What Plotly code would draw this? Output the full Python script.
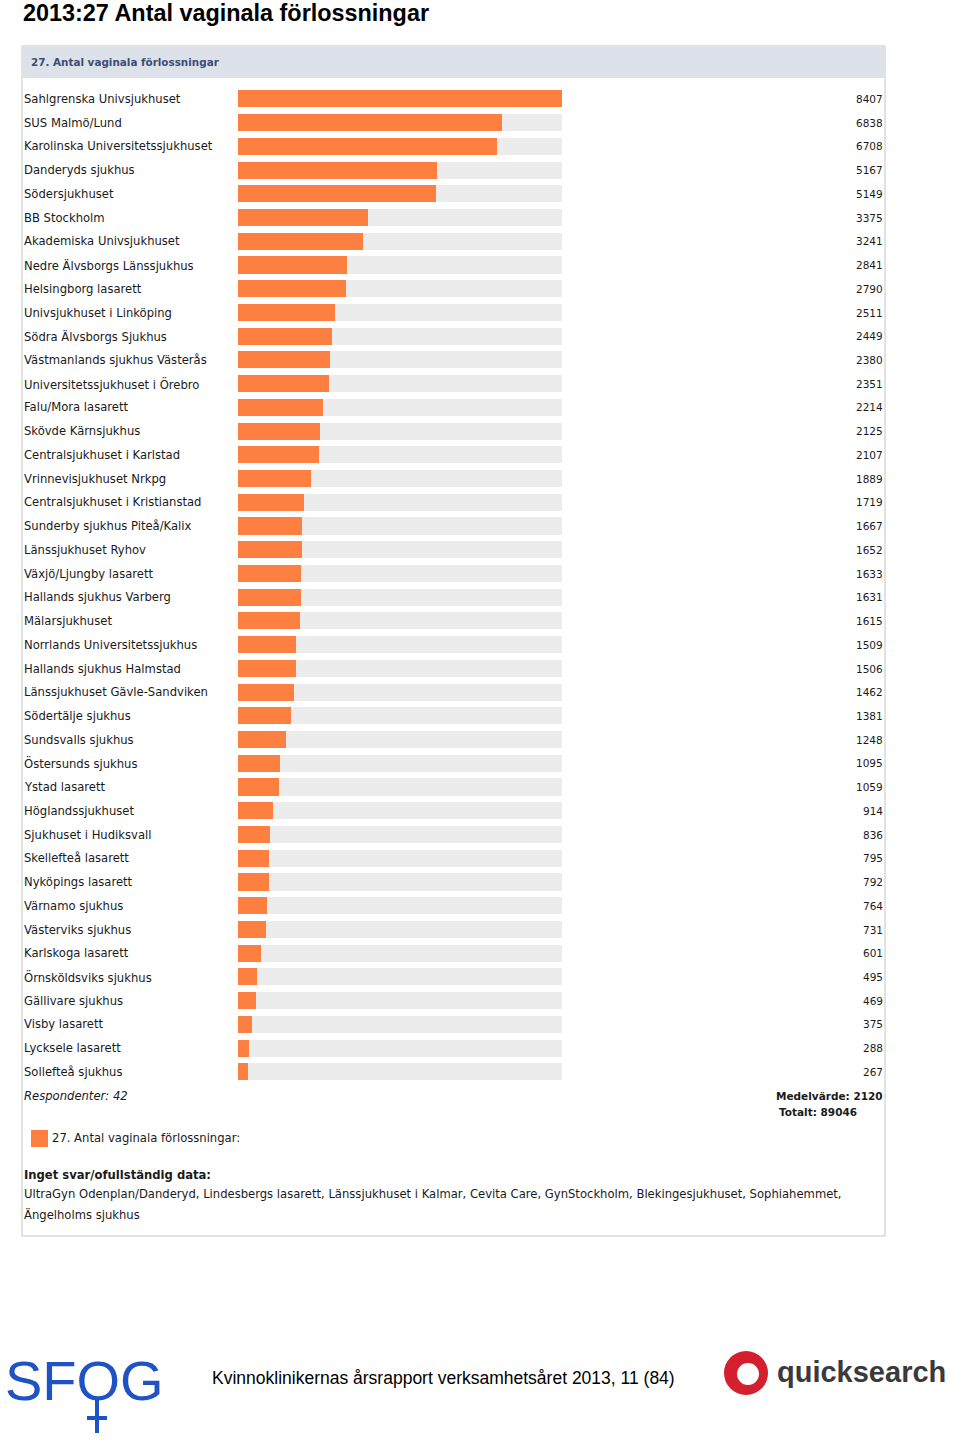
import plotly.graph_objects as go

hospitals = [
    "Sahlgrenska Univsjukhuset", "SUS Malmö/Lund", "Karolinska Universitetssjukhuset",
    "Danderyds sjukhus", "Södersjukhuset", "BB Stockholm", "Akademiska Univsjukhuset",
    "Nedre Älvsborgs Länssjukhus", "Helsingborg lasarett", "Univsjukhuset i Linköping",
    "Södra Älvsborgs Sjukhus", "Västmanlands sjukhus Västerås", "Universitetssjukhuset i Örebro",
    "Falu/Mora lasarett", "Skövde Kärnsjukhus", "Centralsjukhuset i Karlstad",
    "Vrinnevisjukhuset Nrkpg", "Centralsjukhuset i Kristianstad", "Sunderby sjukhus Piteå/Kalix",
    "Länssjukhuset Ryhov", "Växjö/Ljungby lasarett", "Hallands sjukhus Varberg",
    "Mälarsjukhuset", "Norrlands Universitetssjukhus", "Hallands sjukhus Halmstad",
    "Länssjukhuset Gävle-Sandviken", "Södertälje sjukhus", "Sundsvalls sjukhus",
    "Östersunds sjukhus", "Ystad lasarett", "Höglandssjukhuset", "Sjukhuset i Hudiksvall",
    "Skellefteå lasarett", "Nyköpings lasarett", "Värnamo sjukhus", "Västerviks sjukhus",
    "Karlskoga lasarett", "Örnsköldsviks sjukhus", "Gällivare sjukhus", "Visby lasarett",
    "Lycksele lasarett", "Sollefteå sjukhus",
]
values = [
    8407, 6838, 6708, 5167, 5149, 3375, 3241, 2841, 2790, 2511, 2449, 2380, 2351, 2214,
    2125, 2107, 1889, 1719, 1667, 1652, 1633, 1631, 1615, 1509, 1506, 1462, 1381, 1248,
    1095, 1059, 914, 836, 795, 792, 764, 731, 601, 495, 469, 375, 288, 267,
]
series_name = "27. Antal vaginala förlossningar"
respondents = 42
mean_value = 2120
total_value = 89046
missing_label = "Inget svar/ofullständig data:"
missing_lines = [
    "UltraGyn Odenplan/Danderyd, Lindesbergs lasarett, Länssjukhuset i Kalmar, Cevita Care, GynStockholm, Blekingesjukhuset, Sophiahemmet,",
    "Ängelholms sjukhus",
]
page_title = "2013:27 Antal vaginala förlossningar"
footer_text = "Kvinnoklinikernas årsrapport verksamhetsåret 2013, 11 (84)"

W, H = 960, 1442
ORANGE = "#fd8041"
TRACK = "#ececec"
FONT = "DejaVu Sans"


def px(x):
    return x / W


def py(y):
    return 1 - y / H


n = len(values)
row0, pitch = 99.0, 23.73
top_pix = row0 - 0.5 * pitch
bot_pix = row0 + (n - 0.5) * pitch
idx = list(range(n))
vmax = max(values)

fig = go.Figure()
fig.add_trace(go.Bar(
    x=[vmax] * n, y=idx, orientation="h", marker=dict(color=TRACK, line_width=0),
    width=0.72, hoverinfo="skip", showlegend=False,
))
fig.add_trace(go.Bar(
    x=values, y=idx, orientation="h", marker=dict(color=ORANGE, line_width=0),
    width=0.72, name=series_name, showlegend=False,
))

fig.update_layout(
    width=W, height=H, margin=dict(l=0, r=0, t=0, b=0),
    paper_bgcolor="white", plot_bgcolor="rgba(0,0,0,0)",
    barmode="overlay", bargap=0,
    xaxis=dict(domain=[px(238), px(562)], range=[0, vmax], visible=False, fixedrange=True),
    yaxis=dict(domain=[py(bot_pix), py(top_pix)], range=[n - 0.5, -0.5], visible=False, fixedrange=True),
)

shapes = []
# panel
shapes.append(dict(type="rect", xref="paper", yref="paper", x0=px(22), x1=px(885), y0=py(1236), y1=py(46),
                   line=dict(color="#c4c4c4", width=1), fillcolor="white", layer="below"))
shapes.append(dict(type="rect", xref="paper", yref="paper", x0=px(22.5), x1=px(884.5), y0=py(78), y1=py(46.5),
                   line=dict(width=0), fillcolor="#dde1ea", layer="below"))
# legend swatch
shapes.append(dict(type="rect", xref="paper", yref="paper", x0=px(31), x1=px(48), y0=py(1147), y1=py(1130),
                   line=dict(width=0), fillcolor=ORANGE))
# SFOG female symbol
shapes.append(dict(type="line", xref="paper", yref="paper", x0=px(97), x1=px(97), y0=py(1400), y1=py(1433),
                   line=dict(color="#1f52c4", width=4)))
shapes.append(dict(type="line", xref="paper", yref="paper", x0=px(87), x1=px(107), y0=py(1418), y1=py(1418),
                   line=dict(color="#1f52c4", width=4)))
# quicksearch icon
shapes.append(dict(type="circle", xref="paper", yref="paper", x0=px(724), x1=px(768), y0=py(1395), y1=py(1351),
                   line=dict(width=0), fillcolor="#d31f2e"))
shapes.append(dict(type="circle", xref="paper", yref="paper", x0=px(737), x1=px(759), y0=py(1385), y1=py(1363),
                   line=dict(width=0), fillcolor="white"))
fig.update_layout(shapes=shapes)

ann = []
ann.append(dict(text=f"<b>{page_title}</b>", x=px(21), y=py(13), xref="paper", yref="paper",
                xanchor="left", yanchor="middle", showarrow=False,
                font=dict(family="Liberation Sans, Arial", size=23.4, color="black")))
ann.append(dict(text=f"<b>{series_name}</b>", x=px(29), y=py(62), xref="paper", yref="paper",
                xanchor="left", yanchor="middle", showarrow=False,
                font=dict(family=FONT, size=10.4, color="#3b4d72")))
for i, (name, v) in enumerate(zip(hospitals, values)):
    ann.append(dict(text=name, x=px(22), y=i, xref="paper", yref="y", xanchor="left", yanchor="middle",
                    showarrow=False, font=dict(family=FONT, size=11.6, color="#1a1a1a")))
    ann.append(dict(text=str(v), x=px(885), y=i, xref="paper", yref="y", xanchor="right", yanchor="middle",
                    showarrow=False, font=dict(family=FONT, size=10.5, color="#1a1a1a")))
ann.append(dict(text=f"<i>Respondenter: {respondents}</i>", x=px(22), y=py(1096), xref="paper", yref="paper",
                xanchor="left", yanchor="middle", showarrow=False, font=dict(family=FONT, size=11.6, color="#1a1a1a")))
ann.append(dict(text=f"<b>Medelvärde: {mean_value}</b>", x=px(885), y=py(1096), xref="paper", yref="paper",
                xanchor="right", yanchor="middle", showarrow=False, font=dict(family=FONT, size=10.5, color="#1a1a1a")))
ann.append(dict(text=f"<b>Totalt: {total_value}</b>", x=px(859), y=py(1112), xref="paper", yref="paper",
                xanchor="right", yanchor="middle", showarrow=False, font=dict(family=FONT, size=10.5, color="#1a1a1a")))
ann.append(dict(text=series_name + ":", x=px(50), y=py(1138), xref="paper", yref="paper",
                xanchor="left", yanchor="middle", showarrow=False, font=dict(family=FONT, size=11.6, color="#1a1a1a")))
ann.append(dict(text=f"<b>{missing_label}</b>", x=px(22), y=py(1175), xref="paper", yref="paper",
                xanchor="left", yanchor="middle", showarrow=False, font=dict(family=FONT, size=11.6, color="#1a1a1a")))
for k, line in enumerate(missing_lines):
    ann.append(dict(text=line, x=px(22), y=py(1194 + 20 * k), xref="paper", yref="paper",
                    xanchor="left", yanchor="middle", showarrow=False, font=dict(family=FONT, size=11.6, color="#1a1a1a")))
ann.append(dict(text=footer_text, x=px(443), y=py(1378), xref="paper", yref="paper",
                xanchor="center", yanchor="middle", showarrow=False,
                font=dict(family="Liberation Sans, Arial", size=17.5, color="black")))
ann.append(dict(text="SFOG", x=px(3), y=py(1380), xref="paper", yref="paper",
                xanchor="left", yanchor="middle", showarrow=False,
                font=dict(family="Liberation Sans, Arial", size=56, color="#1f52c4")))
ann.append(dict(text="<b>quicksearch</b>", x=px(775), y=py(1372), xref="paper", yref="paper",
                xanchor="left", yanchor="middle", showarrow=False,
                font=dict(family="Liberation Sans, Arial", size=29, color="#3a3a3a")))
fig.update_layout(annotations=ann)

fig.write_html("out.html", config={"displayModeBar": False},
               post_script="document.body.style.margin='0';")
